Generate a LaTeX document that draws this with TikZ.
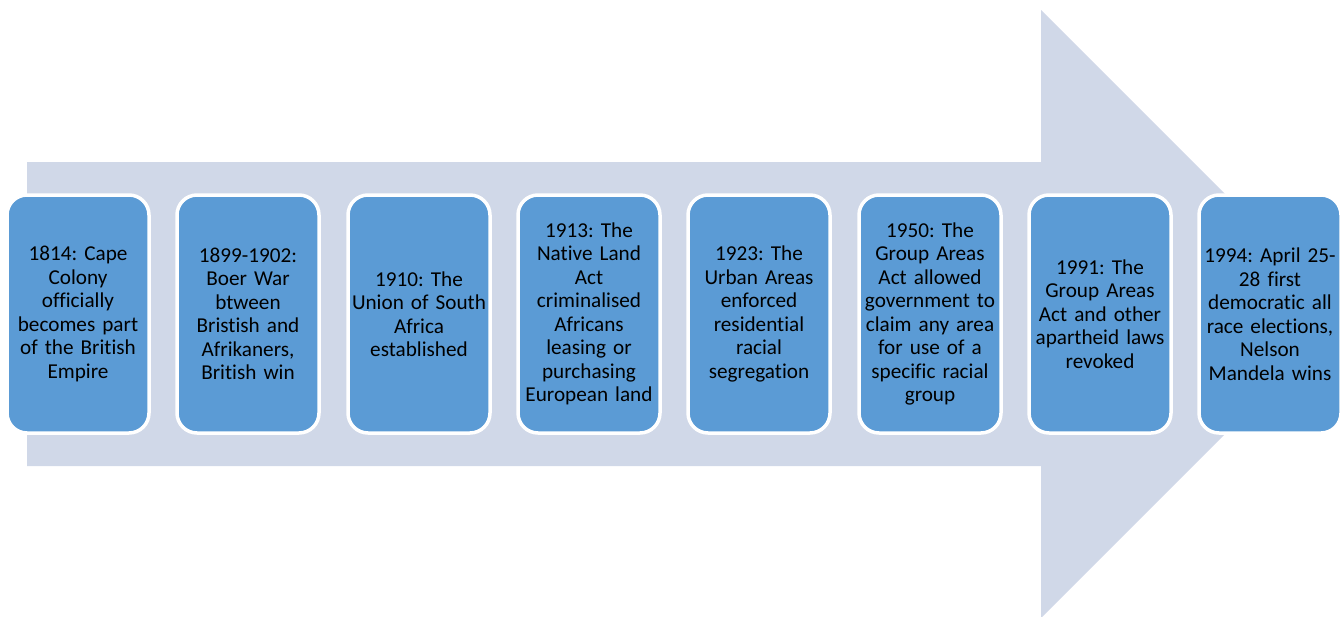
\documentclass[tikz,border=0pt]{standalone}
\usepackage{fontspec}
\setmainfont{Carlito}[Ligatures=CommonOff]
\definecolor{arrowfill}{HTML}{D0D8E8}
\definecolor{boxfill}{HTML}{5B9BD5}
\begin{document}
\frenchspacing
\begin{tikzpicture}[x=1pt,y=-1pt,
  evbox/.style={draw=white, line width=3.5pt, fill=boxfill, rounded corners=20pt,
    minimum width=142pt, minimum height=238pt, inner sep=0pt,
    align=center, text width=142pt, font=\fontsize{21.2}{23.5}\selectfont\frenchspacing, text=black}]
\useasboundingbox (0,0) rectangle (1343,616);
\clip (0,0) rectangle (1343,616);
\fill[arrowfill] (27,162) -- (1041,162) -- (1041,10) -- (1345,314) -- (1041,618) -- (1041,466) -- (27,466) -- cycle;
\node[evbox] (b1) at (78,314) {1814: Cape\\Colony\\officially\\becomes part\\of the British\\Empire};
\node[evbox] (b2) at (248,314) {1899-1902:\\Boer War\\btween\\Bristish and\\Afrikaners,\\British win};
\node[evbox] (b3) at (419,314) {1910: The\\Union of South\\Africa\\established};
\node[evbox] (b4) at (589,314) {1913: The\\Native Land\\Act\\criminalised\\Africans\\leasing or\\purchasing\\European land};
\node[evbox] (b5) at (759,314) {1923: The\\Urban Areas\\enforced\\residential\\racial\\segregation};
\node[evbox] (b6) at (930,314) {1950: The\\Group Areas\\Act allowed\\government to\\claim any area\\for use of a\\specific racial\\group};
\node[evbox] (b7) at (1100,314) {1991: The\\Group Areas\\Act and other\\apartheid laws\\revoked};
\node[evbox] (b8) at (1270,314) {1994: April 25-\\28 first\\democratic all\\race elections,\\Nelson\\Mandela wins};
\end{tikzpicture}
\end{document}
